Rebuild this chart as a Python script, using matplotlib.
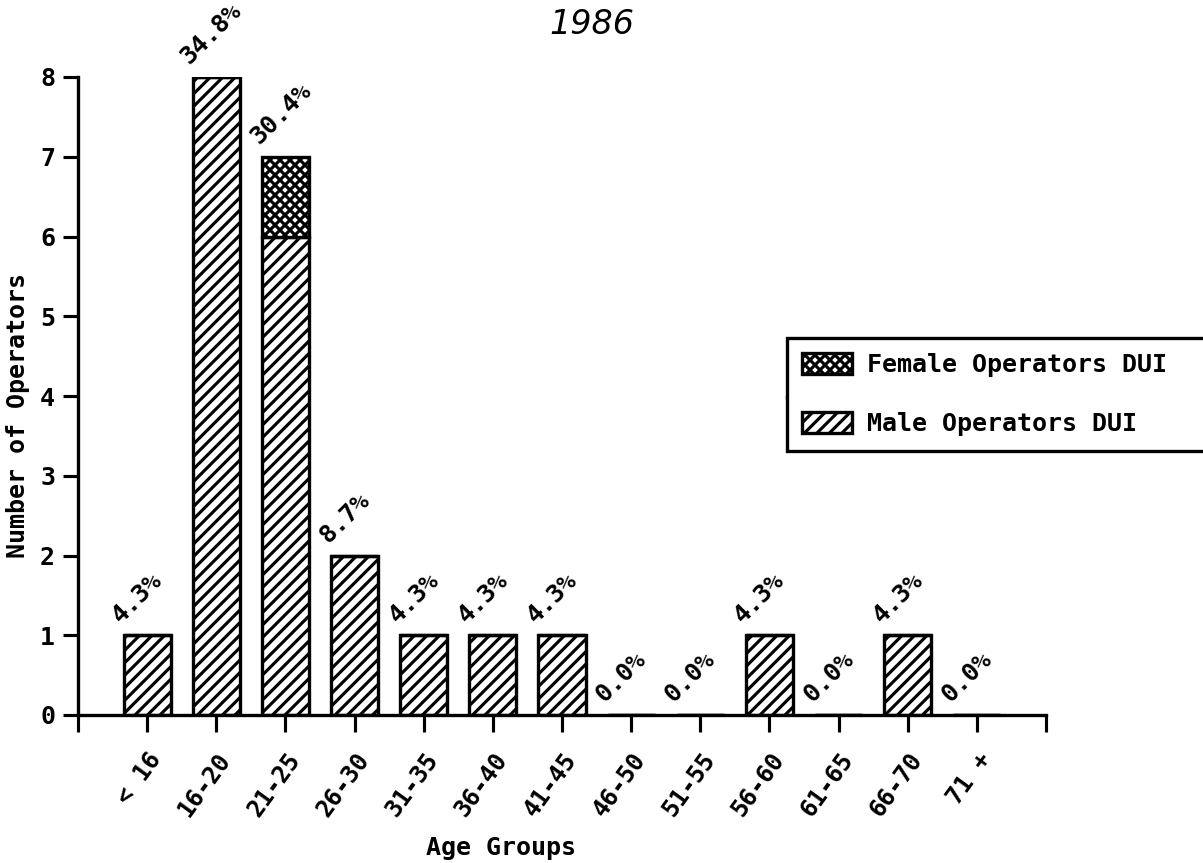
import matplotlib.pyplot as plt
import numpy as np
from matplotlib.lines import Line2D

plt.rcParams['hatch.linewidth'] = 1.5
plt.rcParams['font.family'] = ['DejaVu Sans Mono']
plt.rcParams['font.weight'] = 'bold'

age_groups = ["< 16", "16-20", "21-25", "26-30", "31-35", "36-40", "41-45",
              "46-50", "51-55", "56-60", "61-65", "66-70", "71 +"]
male = [1, 8, 6, 2, 1, 1, 1, 0, 0, 1, 0, 1, 0]
female = [0, 0, 1, 0, 0, 0, 0, 0, 0, 0, 0, 0, 0]
year = "1986"

totals = np.array(male) + np.array(female)
pct = totals / totals.sum() * 100

W, H = 1203, 863
fig = plt.figure(figsize=(W / 150, H / 150), dpi=150)
ax = fig.add_axes([78 / W, 1 - 715 / H, 968 / W, 638 / H])

x = np.arange(len(age_groups))
ax.bar(x, male, width=0.68, color="white", edgecolor="black", linewidth=1.6,
       hatch="////", label="Male Operators DUI")
ax.bar(x, female, bottom=male, width=0.68, color="white", edgecolor="black",
       linewidth=1.6, hatch="xxxxx", label="Female Operators DUI")

# percentage of all operators above each bar
for xi, t, p in zip(x, totals, pct):
    ax.text(xi - 0.33, t + 0.1, f"{p:.1f}%", rotation=45, rotation_mode="anchor",
            ha="left", va="bottom", fontsize=12)

ax.set_xlim(-1, 13)
ax.set_ylim(0, 8)
ax.set_xticks(np.arange(-1, 14))
ax.set_xticklabels([""] + age_groups + [""], rotation=54, ha="right",
                   rotation_mode="anchor")
ax.set_yticks(range(9))
ax.tick_params(axis="x", direction="out", length=8, width=1.5, pad=8, labelsize=11.5)
ax.tick_params(axis="y", direction="out", length=7, width=1.5, pad=4, labelsize=12)
for s in ["top", "right"]:
    ax.spines[s].set_visible(False)
for s in ["left", "bottom"]:
    ax.spines[s].set_linewidth(1.6)

ax.set_xlabel("Age Groups", fontsize=12, fontweight="bold")
ax.xaxis.set_label_coords(0.437, -0.19)
ax.set_ylabel("Number of Operators", fontsize=12, fontweight="bold")
ax.yaxis.set_label_coords(-0.05, 0.47)

fig.text(592 / W, 1 - 24 / H, year, fontsize=16, style="italic", weight="light",
         family="DejaVu Sans", ha="center", va="center")

h, l = ax.get_legend_handles_labels()
leg = fig.legend(h[::-1], l[::-1], loc="upper left",
                 bbox_to_anchor=(787 / W, 1 - 455 / H, 0.37, 117 / H), mode="expand",
                 fancybox=False, edgecolor="black", framealpha=1, fontsize=12,
                 handlelength=2.0, handleheight=0.9, labelspacing=1.4,
                 borderpad=0.6, handletextpad=0.6, borderaxespad=0)
leg.get_frame().set_linewidth(1.6)
fig.add_artist(Line2D([787 / W, 1.0], [1 - 397 / H] * 2, transform=fig.transFigure,
                      color="black", lw=1.6))

fig.savefig("out.png", dpi=150)
